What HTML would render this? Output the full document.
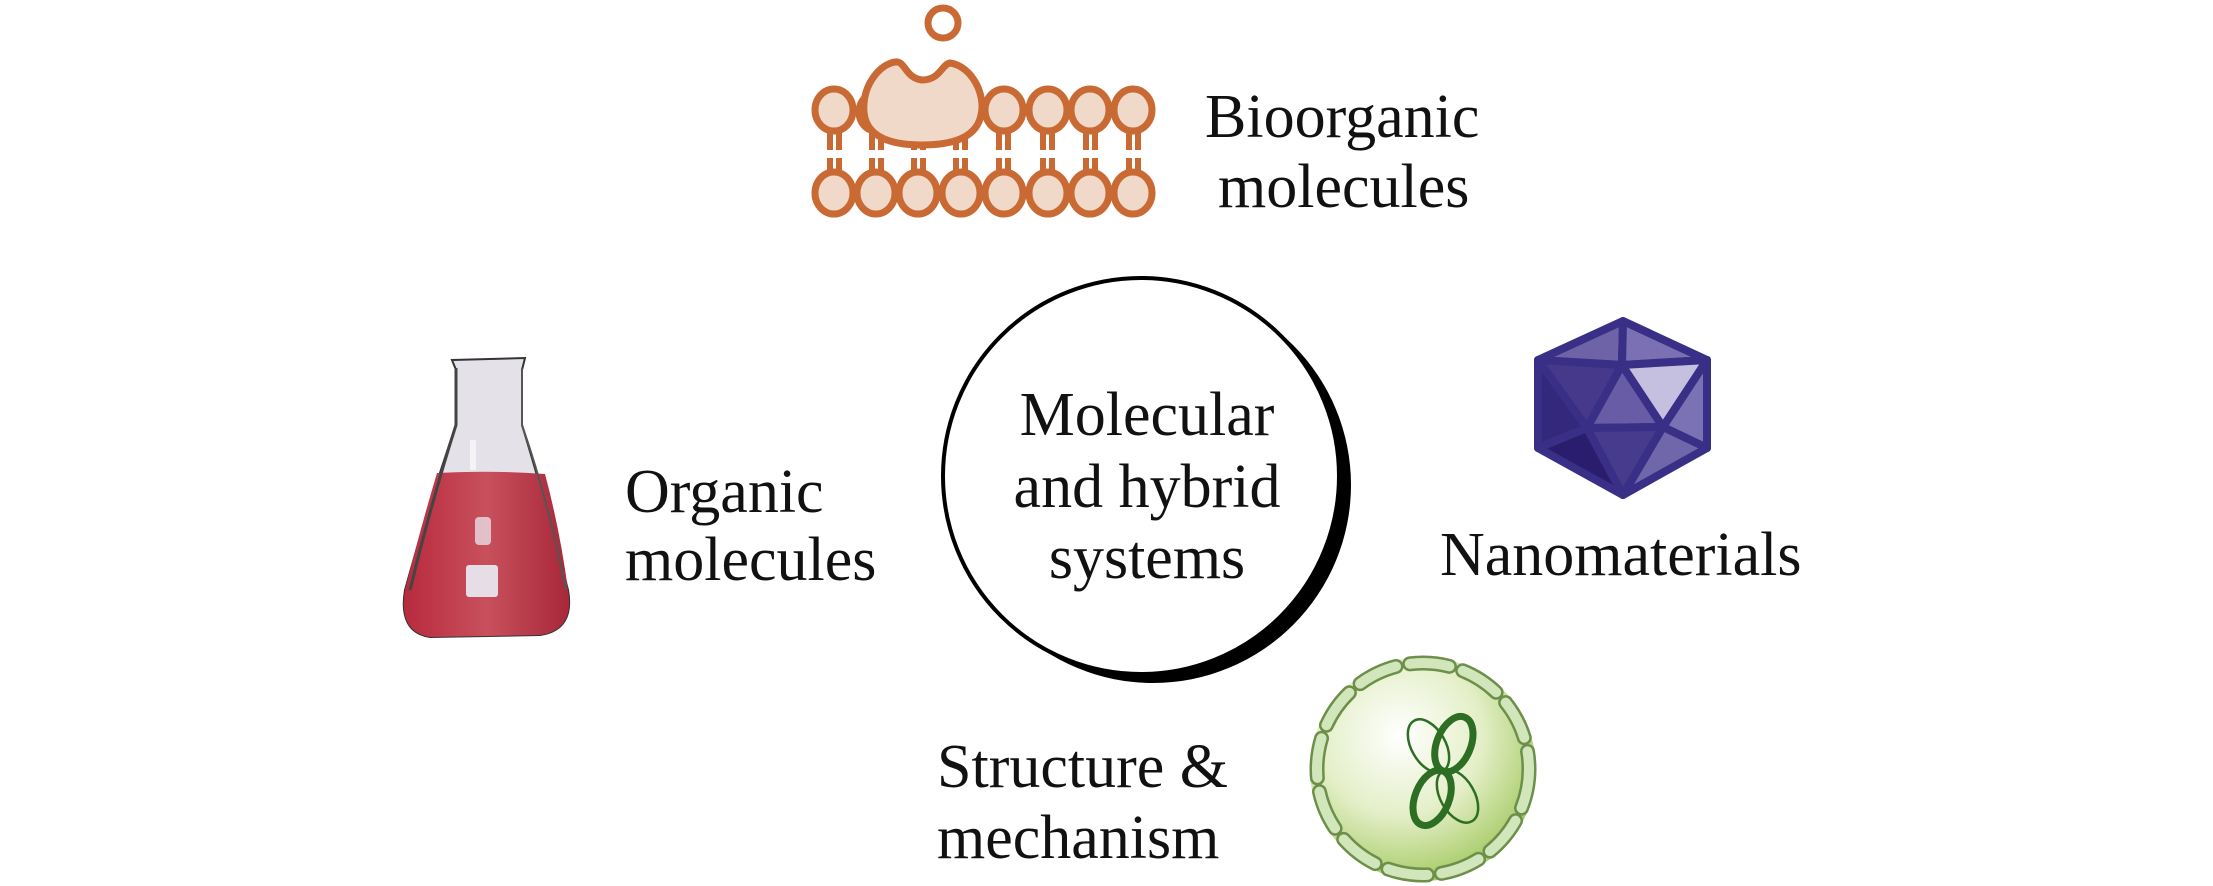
<!DOCTYPE html>
<html><head><meta charset="utf-8"><style>
html,body{margin:0;padding:0;background:#fff;}
svg{display:block;}
text{font-family:"Liberation Serif",serif;font-size:62px;fill:#111;}
</style></head><body>
<svg width="2213" height="886" viewBox="0 0 2213 886" xmlns="http://www.w3.org/2000/svg">
<defs>
<radialGradient id="cg" cx="0.4" cy="0.35" r="0.65">
<stop offset="0" stop-color="#ffffff"/><stop offset="0.55" stop-color="#e4efc8"/><stop offset="1" stop-color="#a9cc6a"/>
</radialGradient>
<linearGradient id="liq" x1="0" x2="1" y1="0" y2="0">
<stop offset="0" stop-color="#b82a3e"/><stop offset="0.5" stop-color="#c8505c"/><stop offset="1" stop-color="#a8283a"/>
</linearGradient>
</defs>

<!-- Membrane -->
<g stroke="#c96a34" stroke-width="7" fill="#f0d9c8">
<circle cx="943" cy="23" r="15" fill="none"/>
<g stroke-width="6">
<path d="M830 128V150M839 128V150M830 158V178M839 158V178"/>
<path d="M872 128V150M881 128V150M872 158V178M881 158V178"/>
<path d="M914 128V150M923 128V150M914 158V178M923 158V178"/>
<path d="M956 128V150M965 128V150M956 158V178M965 158V178"/>
<path d="M999 128V150M1008 128V150M999 158V178M1008 158V178"/>
<path d="M1043 128V150M1052 128V150M1043 158V178M1052 158V178"/>
<path d="M1086 128V150M1095 128V150M1086 158V178M1095 158V178"/>
<path d="M1129 128V150M1138 128V150M1129 158V178M1138 158V178"/>
</g>
<ellipse cx="834" cy="110" rx="19" ry="21"/>
<ellipse cx="876" cy="112" rx="17" ry="19"/>
<ellipse cx="961" cy="112" rx="17" ry="19"/>
<ellipse cx="1004" cy="110" rx="19" ry="21"/>
<ellipse cx="1048" cy="110" rx="19" ry="21"/>
<ellipse cx="1090" cy="110" rx="19" ry="21"/>
<ellipse cx="1133" cy="110" rx="19" ry="21"/>
<path d="M895 62 C905 60 905 78 922 80 C940 80 942 64 950 63 C972 66 986 95 981 115 C976 141 945 145 922 145 C895 145 866 139 864 112 C862 85 880 64 895 62Z"/>
<ellipse cx="834" cy="193" rx="19" ry="21"/>
<ellipse cx="876" cy="193" rx="19" ry="21"/>
<ellipse cx="918" cy="193" rx="19" ry="21"/>
<ellipse cx="961" cy="193" rx="19" ry="21"/>
<ellipse cx="1004" cy="193" rx="19" ry="21"/>
<ellipse cx="1048" cy="193" rx="19" ry="21"/>
<ellipse cx="1090" cy="193" rx="19" ry="21"/>
<ellipse cx="1133" cy="193" rx="19" ry="21"/>
</g>
<text x="1205" y="137">Bioorganic</text>
<text x="1218" y="207">molecules</text>

<!-- Flask -->
<g>
<path d="M452 360 L525 358 L522 370 L522 425 Q545 500 568 590 Q575 630 540 635 L430 637 Q398 632 405 590 Q430 500 456 425 L456 370 Z" fill="#e4e2e8" stroke="#333" stroke-width="2"/>
<path d="M437 473 Q490 470 545 474 Q560 530 568 590 Q575 630 540 635 L430 637 Q398 632 405 590 Q420 530 437 473Z" fill="url(#liq)"/>
<path d="M470 440 L470 470 L476 470 L476 440Z" fill="#fff" opacity="0.6"/>
<rect x="466" y="565" width="32" height="32" rx="3" fill="#e6dde6"/>
<rect x="475" y="517" width="16" height="28" rx="4" fill="#e8dde6" opacity="0.8"/>
<path d="M456 368 L456 425 Q432 500 410 590" stroke="#444" stroke-width="3" fill="none"/>
<path d="M522 368 L522 425 Q548 500 566 590" stroke="#555" stroke-width="2" fill="none"/>
</g>
<text x="625" y="512">Organic</text>
<text x="625" y="580">molecules</text>

<!-- Central circle -->
<circle cx="1153" cy="485" r="198" fill="#000"/>
<circle cx="1141" cy="476" r="198" fill="#fff" stroke="#000" stroke-width="4"/>
<text x="1147" y="435" text-anchor="middle">Molecular</text>
<text x="1147" y="507" text-anchor="middle">and hybrid</text>
<text x="1147" y="578" text-anchor="middle">systems</text>

<!-- Icosahedron -->
<g stroke="#3a2f86" stroke-width="8" stroke-linejoin="round">
<polygon points="1623,321 1538,360 1622,365" fill="#6f63a8"/>
<polygon points="1623,321 1622,365 1707,360" fill="#7a70b3"/>
<polygon points="1538,360 1622,365 1587,428" fill="#46398c"/>
<polygon points="1538,360 1587,428 1538,448" fill="#34287c"/>
<polygon points="1622,365 1587,428 1663,427" fill="#675ca5"/>
<polygon points="1622,365 1707,360 1663,427" fill="#c6c0e0"/>
<polygon points="1707,360 1707,448 1663,427" fill="#7b72b4"/>
<polygon points="1538,448 1587,428 1623,495" fill="#2a1d6e"/>
<polygon points="1587,428 1663,427 1623,495" fill="#473b8e"/>
<polygon points="1663,427 1707,448 1623,495" fill="#7066aa"/>
</g>
<text x="1440" y="575">Nanomaterials</text>

<!-- Cell -->
<ellipse cx="1423" cy="769" rx="113" ry="112" fill="url(#cg)"/>
<ellipse cx="1423" cy="769" rx="106" ry="106" fill="none" stroke="#6d8f4a" stroke-width="15" stroke-dasharray="40 14" stroke-linecap="round"/>
<ellipse cx="1423" cy="769" rx="106" ry="106" fill="none" stroke="#d2e6bb" stroke-width="10" stroke-dasharray="40 14" stroke-linecap="round"/>
<g fill="none" stroke="#2e6e24" transform="translate(1443 771)">
<ellipse cx="29" cy="0" rx="29" ry="17" transform="rotate(-68)" stroke-width="7"/>
<ellipse cx="29" cy="0" rx="29" ry="17" transform="rotate(112)" stroke-width="7"/>
<ellipse cx="29" cy="0" rx="29" ry="17" transform="rotate(-120)" stroke-width="2.5"/>
<ellipse cx="29" cy="0" rx="29" ry="17" transform="rotate(60)" stroke-width="2.5"/>
</g>
<text x="937" y="787">Structure &amp;</text>
<text x="937" y="858">mechanism</text>
</svg>
</body></html>
